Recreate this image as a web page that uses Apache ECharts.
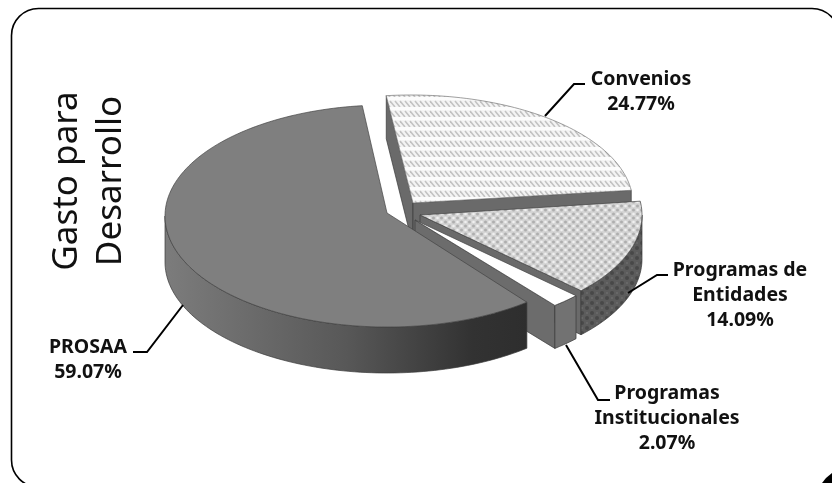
<!DOCTYPE html>
<html>
<head>
<meta charset="utf-8">
<style>html,body{margin:0;padding:0;background:#fff}#c{width:832px;height:483px}</style>
<script src="https://cdn.jsdelivr.net/npm/echarts@6/dist/echarts.min.js"></script>
</head>
<body>
<div id="c"></div>
<script>
// ---- data ----
const categories = ['Convenios', 'Programas de Entidades', 'Programas Institucionales', 'PROSAA'];
const values = [24.77, 14.09, 2.07, 59.07];
const labelLines = [['Convenios'], ['Programas de', 'Entidades'], ['Programas', 'Institucionales'], ['PROSAA']];
const titleText = 'Gasto para\nDesarrollo';

// ---- layout ----
const START_DEG = 263.6;
const RX = 222;
const geom = [
  { ax: 413, ay: 203, cx: 411, cy: 204, ry: 109, depth: 43 },
  { ax: 420, ay: 215, cx: 420, cy: 215, ry: 110, depth: 44 },
  { ax: 415, ay: 220, cx: 415, cy: 220, ry: 110, depth: 43 },
  { ax: 387, ay: 213, cx: 387, cy: 216, ry: 111, depth: 46 }
];
const labelPos = [
  { x: 641, y: 79 }, { x: 740, y: 270 }, { x: 667, y: 393 }, { x: 88, y: 347 }
];
const leaders = [
  [[545, 116], [574, 84], [585, 84]],
  [[628, 293], [657, 275], [668, 275]],
  [[566, 345], [598, 400], [610, 400]],
  [[183, 305], [147, 352], [133, 352]]
];

// ---- patterns ----
function mk(w, h, draw) {
  const c = document.createElement('canvas');
  c.width = w; c.height = h;
  draw(c.getContext('2d'));
  return { image: c, repeat: 'repeat' };
}
const stripes = mk(10, 10, g => {
  g.fillStyle = '#f4f4f4'; g.fillRect(0, 0, 10, 10);
  g.strokeStyle = '#c2c2c2'; g.lineWidth = 1.6;
  for (let x = -5; x < 15; x += 5) {
    g.beginPath(); g.moveTo(x, 1); g.lineTo(x + 5, 7); g.stroke();
  }
  g.fillStyle = '#fcfcfc'; g.fillRect(0, 7, 10, 3);
});
const dots = mk(8, 8, g => {
  g.fillStyle = '#d4d4d4'; g.fillRect(0, 0, 8, 8);
  g.fillStyle = '#aeaeae';
  [[1.5, 2], [5.5, 6]].forEach(p => { g.beginPath(); g.arc(p[0], p[1], 1.5, 0, 7); g.fill(); });
  g.fillStyle = '#f0f0f0';
  [[5.5, 2], [1.5, 6]].forEach(p => { g.beginPath(); g.arc(p[0], p[1], 1.3, 0, 7); g.fill(); });
});
const darkDots = mk(10, 10, g => {
  g.fillStyle = '#5c5c5c'; g.fillRect(0, 0, 10, 10);
  g.fillStyle = '#484848';
  [[2, 3], [7, 8]].forEach(p => { g.beginPath(); g.arc(p[0], p[1], 2, 0, 7); g.fill(); });
  g.fillStyle = '#686868';
  [[7, 3], [2, 8]].forEach(p => { g.beginPath(); g.arc(p[0], p[1], 1.2, 0, 7); g.fill(); });
});
const wallGrad = new echarts.graphic.LinearGradient(0, 0, 1, 0, [
  { offset: 0, color: '#7c7c7c' }, { offset: 0.5, color: '#585858' }, { offset: 0.85, color: '#323232' }, { offset: 1, color: '#2e2e2e' }
]);
const sliceStyle = [
  { top: stripes, wall: '#6a6a6a', side: '#6a6a6a' },
  { top: dots, wall: darkDots, side: '#6a6a6a' },
  { top: '#ffffff', wall: '#727272', side: '#6c6c6c' },
  { top: '#7f7f7f', wall: wallGrad, side: '#6c6c6c' }
];

// ---- geometry derived from the values ----
const total = values.reduce((a, b) => a + b, 0);
const RAD = Math.PI / 180;
const ranges = [];
values.reduce((acc, v) => {
  const next = acc + v / total * 360;
  ranges.push([acc, next]);
  return next;
}, START_DEG);

function arcPts(g, a0, a1, dy) {
  const pts = [];
  const n = Math.max(2, Math.ceil((a1 - a0) / 1.5));
  for (let i = 0; i <= n; i++) {
    const a = (a0 + (a1 - a0) * i / n) * RAD;
    pts.push([g.cx + RX * Math.cos(a), g.cy + g.ry * Math.sin(a) + dy]);
  }
  return pts;
}
function poly(points, fill, z2, stroke) {
  return {
    type: 'polygon', z2: z2,
    shape: { points: points },
    style: { fill: fill, stroke: stroke || '#3a3a3a', lineWidth: 0.7 }
  };
}
function renderSlice(params) {
  const i = params.dataIndex;
  const g = geom[i], st = sliceStyle[i];
  const a0 = ranges[i][0], a1 = ranges[i][1];
  const apex = [g.ax, g.ay], apexB = [g.ax, g.ay + g.depth];
  const children = [];
  const edge = (a, dy) => [g.cx + RX * Math.cos(a * RAD), g.cy + g.ry * Math.sin(a * RAD) + dy];
  if (Math.cos(a0 * RAD) < 0) {
    children.push(poly([apex, edge(a0, 0), edge(a0, g.depth), apexB], st.side, i * 10 + 1));
  }
  if (Math.cos(a1 * RAD) > 0) {
    children.push(poly([apex, edge(a1, 0), edge(a1, g.depth), apexB], st.side, i * 10 + 1));
  }
  // visible front part of the rim: angles between 0 and 180 (mod 360)
  [[0, 180], [360, 540]].forEach(w => {
    const s = Math.max(a0, w[0]), e = Math.min(a1, w[1]);
    if (e > s) {
      const top = arcPts(g, s, e, 0), bot = arcPts(g, s, e, g.depth).reverse();
      children.push(poly(top.concat(bot), st.wall, i * 10 + 2));
    }
  });
  children.push(poly([apex].concat(arcPts(g, a0, a1, 0)), st.top, i * 10 + 3, i === 0 ? '#777' : '#444'));
  return { type: 'group', children: children };
}

// ---- chart ----
const FONT = '"Noto Sans", sans-serif';
const graphics = [
  {
    type: 'rect', silent: true, z: -1,
    shape: { x: 11.5, y: 8.5, width: 827.5, height: 478.5, r: 27 },
    style: { fill: '#fff', stroke: '#000', lineWidth: 1.6 }
  },
  {
    type: 'polygon', silent: true,
    shape: { points: [[832, 473], [826, 478], [822, 483], [832, 483]] },
    style: { fill: '#000' }
  },
  {
    type: 'text', z: 20, x: 89, y: 181, rotation: Math.PI / 2,
    style: {
      text: titleText, font: '400 35px ' + FONT, fill: '#111', align: 'center',
      verticalAlign: 'middle', lineHeight: 44
    }
  }
];
leaders.forEach(pts => graphics.push({
  type: 'polyline', z: 20, silent: true, shape: { points: pts },
  style: { stroke: '#000', lineWidth: 2, fill: 'none' }
}));
categories.forEach((c, i) => {
  const lines = labelLines[i].concat([values[i].toFixed(2) + '%']);
  graphics.push({
    type: 'text', z: 20, x: labelPos[i].x, y: labelPos[i].y - 12.5,
    style: {
      text: lines.join('\n'), font: '700 19.5px ' + FONT, fill: '#111',
      align: 'center', verticalAlign: 'top', lineHeight: 25
    }
  });
});

const chart = echarts.init(document.getElementById('c'), null, { renderer: 'canvas' });
chart.setOption({
  animation: false,
  backgroundColor: '#fff',
  graphic: graphics,
  series: [{
    type: 'custom',
    coordinateSystem: 'none',
    renderItem: renderSlice,
    silent: true,
    data: categories.map((c, i) => ({ name: c, value: values[i] }))
  }]
});
</script>
</body>
</html>
